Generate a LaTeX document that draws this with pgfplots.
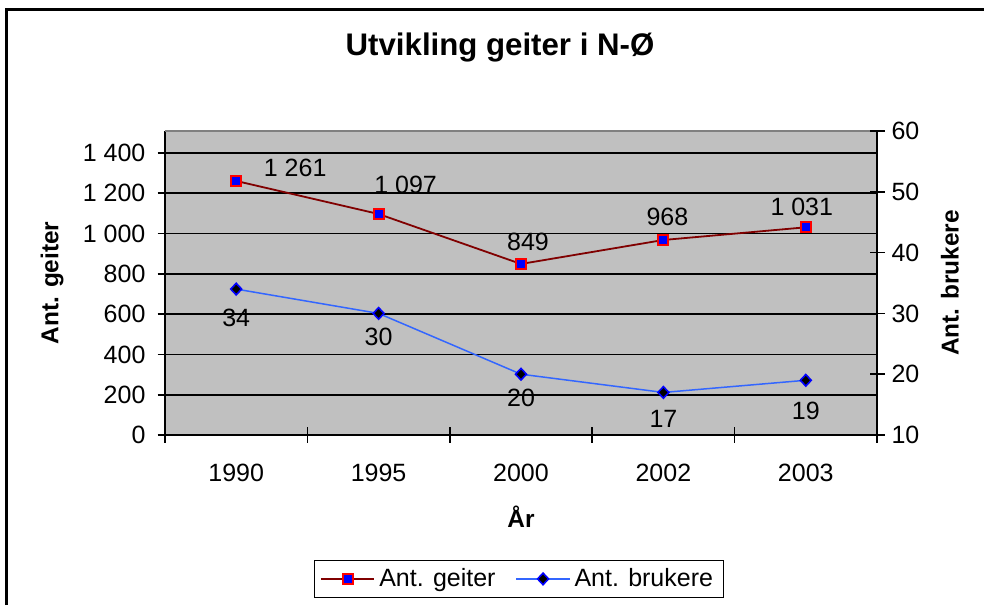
\documentclass[border=0pt]{standalone}
\usepackage{fontspec}
\setmainfont{Liberation Sans}
\usepackage{pgfplots}
\pgfplotsset{compat=1.18}
\definecolor{plotgray}{RGB}{192,192,192}
\definecolor{bordergray}{RGB}{128,128,128}
\definecolor{geitline}{RGB}{128,0,0}
\definecolor{brukline}{RGB}{51,102,255}
\newcommand{\lblfont}{\fontsize{12.5}{15}\selectfont}
\begin{document}
\begin{tikzpicture}
\useasboundingbox (0pt,0pt) rectangle (492pt,302.5pt);
\draw[line width=1.25pt] (3.25pt,0pt) -- (3.25pt,297.75pt) -- (492pt,297.75pt);
\node[font=\fontsize{15.6}{18}\selectfont\bfseries] at (250pt,278.5pt) {Utvikling geiter i N-Ø};
\pgfplotsset{
 common/.style={at={(82.5pt,85pt)}, anchor=south west, scale only axis,
   width=356pt, height=152pt, xmin=-0.5, xmax=4.5, clip=false,
   tick style={black, line width=0.8pt},
   ticklabel style={font=\lblfont},
   label style={font=\fontsize{12.2}{14}\selectfont\bfseries},
   axis line style={black, line width=0.8pt},
   major tick length=7.5pt, tick align=center},
 geit/.style={geitline, line width=0.9pt, mark=square*, mark size=2.5pt,
   mark options={fill=blue, draw=red, line width=1pt, solid}},
 bruk/.style={brukline, line width=0.75pt, mark=diamond*, mark size=2.9pt,
   mark options={fill=black, draw=blue, line width=0.8pt, xscale=1.25, solid}},
}
\begin{axis}[common, axis x line*=bottom, axis y line*=left,
  ymin=0, ymax=1509, ytick={0,200,...,1400},
  yticklabels={0,200,400,600,800,1 000,1 200,1 400},
  yticklabel style={xshift=-2.5pt},
  ymajorgrids, grid style={black, line width=0.8pt},
  axis background/.style={fill=plotgray},
  xtick={-0.5,0.5,1.5,2.5,3.5,4.5}, xticklabels={},
  extra x ticks={0,1,2,3,4},
  extra x tick labels={1990,1995,2000,2002,2003},
  extra x tick style={major tick length=0pt, grid=none},
  xticklabel style={yshift=-11pt},
  ylabel={Ant. geiter},
  ylabel style={at={(axis description cs:-0.1587,0.5)}, anchor=center},
  xlabel={År},
  xlabel style={at={(axis description cs:0.5,-0.27)}, anchor=center},
]
\draw[bordergray, line width=0.8pt] (rel axis cs:0,1) -- (rel axis cs:1,1);
\addplot[geit] coordinates {(0,1261)(1,1097)(2,849)(3,968)(4,1031)};
\node[font=\lblfont, xshift=29.5pt, yshift=6.5pt] at (axis cs:0,1261) {1 261};
\node[font=\lblfont, xshift=13.5pt, yshift=14.5pt] at (axis cs:1,1097) {1 097};
\node[font=\lblfont, xshift=3.5pt, yshift=11pt] at (axis cs:2,849) {849};
\node[font=\lblfont, xshift=2pt, yshift=11.5pt] at (axis cs:3,968) {968};
\node[font=\lblfont, xshift=-2pt, yshift=10pt] at (axis cs:4,1031) {1 031};
\end{axis}
\begin{axis}[common, axis x line=none, axis y line*=right,
  ymin=10, ymax=60, ytick={10,20,30,40,50,60},
  yticklabels={10,20,30,40,50,60},
  ylabel={Ant. brukere},
  ylabel style={at={(axis description cs:1.1025,0.5)}, anchor=center},
  legend style={at={(axis description cs:0.4965,-0.411)}, anchor=north,
    legend columns=-1, draw=black, fill=white,
    font=\fontsize{12.5}{15}\selectfont,
    /tikz/every even column/.append style={column sep=8pt}},
  legend image code/.code={\draw[mark repeat=2,mark phase=2] plot coordinates {(0cm,0cm) (0.47cm,0cm) (0.94cm,0cm)};},
]
\addlegendimage{geit}
\addlegendentry{Ant. geiter}
\addplot[bruk] coordinates {(0,34)(1,30)(2,20)(3,17)(4,19)};
\addlegendentry{Ant. brukere}
\node[font=\lblfont, yshift=-14.5pt] at (axis cs:0,34) {34};
\node[font=\lblfont, yshift=-11.5pt] at (axis cs:1,30) {30};
\node[font=\lblfont, yshift=-12pt] at (axis cs:2,20) {20};
\node[font=\lblfont, yshift=-13pt] at (axis cs:3,17) {17};
\node[font=\lblfont, yshift=-15.5pt] at (axis cs:4,19) {19};
\end{axis}
\end{tikzpicture}
\end{document}
